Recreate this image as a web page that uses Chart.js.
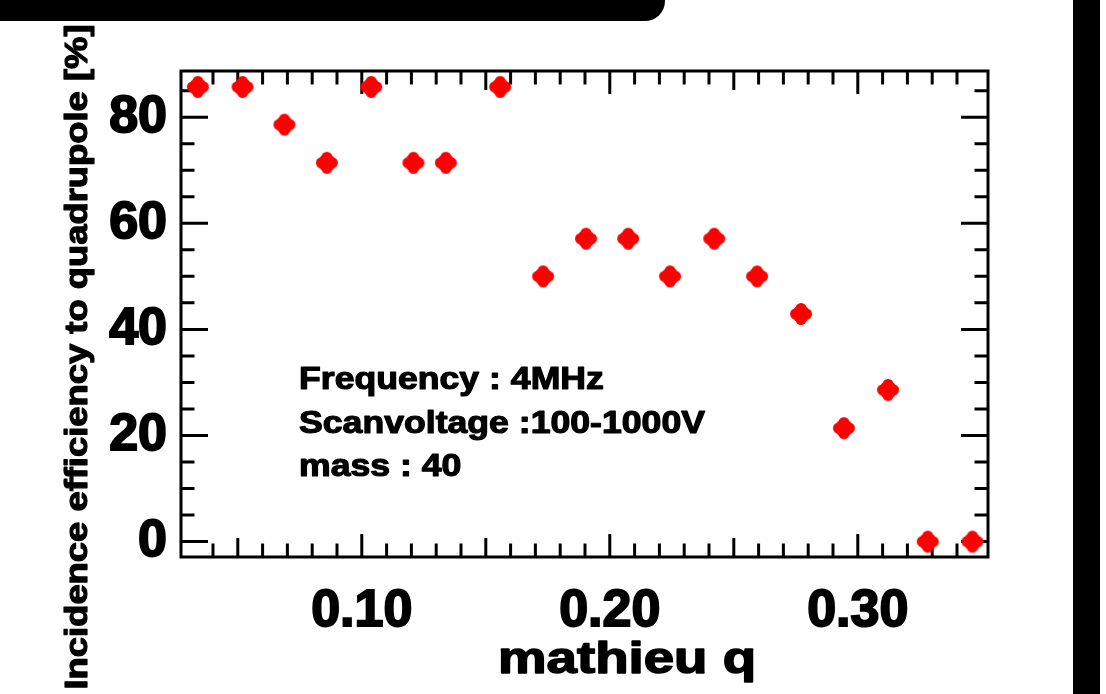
<!DOCTYPE html>
<html><head><meta charset="utf-8">
<script src="https://cdn.jsdelivr.net/npm/chart.js@4"></script>
<style>
html,body{margin:0;padding:0;background:#fff;}
#wrap{position:relative;width:1106px;height:694px;overflow:hidden;background:#fff;}
#c{position:absolute;left:0;top:0;}
.topbar{position:absolute;left:0;top:0;width:665px;height:21px;background:#000;border-bottom-right-radius:20px;z-index:2;}
.rightband{position:absolute;left:1073px;top:0;width:27px;height:694px;background:#000;z-index:2;}
</style></head>
<body><div id="wrap"><canvas id="c" width="1106" height="694"></canvas><div class="topbar"></div><div class="rightband"></div></div>
<script>
// ---- data ----
const qValues = [0.0339, 0.0519, 0.0688, 0.0859, 0.1038, 0.1208, 0.1339, 0.1558, 0.1731, 0.1904,
                 0.2074, 0.2243, 0.2421, 0.2594, 0.2771, 0.2944, 0.3122, 0.3282, 0.3462];
const efficiency = [85.7, 85.7, 78.6, 71.4, 85.7, 71.4, 71.4, 85.7, 50.0, 57.1,
                    57.1, 50.0, 57.1, 50.0, 42.9, 21.4, 28.6, 0, 0];
const xTickLabels = ['0.10', '0.20', '0.30'];
const yTickLabels = ['0', '20', '40', '60', '80'];
const annotationLines = ['Frequency : 4MHz', 'Scanvoltage :100-1000V', 'mass : 40'];
const xTitle = 'mathieu q';
const yTitle = 'Incidence efficiency to quadrupole [%]';
const xRange = [0.0271, 0.3525];
const yRange = [-2.9, 88.7];

const FONT = "'Liberation Sans', Arial, Helvetica, sans-serif";

function makeMarker() {
  const c = document.createElement('canvas'); c.width = 24; c.height = 24;
  const g = c.getContext('2d'); g.fillStyle = '#ff0000';
  g.beginPath(); g.roundRect(1, 6.5, 22, 11, 5.5); g.fill();
  g.beginPath(); g.roundRect(6.5, 1, 11, 22, 5.5); g.fill();
  g.beginPath(); g.arc(12, 12, 9, 0, Math.PI * 2); g.fill();
  return c;
}

function heavyText(ctx, text, x, y, sx, align, lw) {
  ctx.save();
  ctx.translate(x, y);
  ctx.scale(sx, 1);
  ctx.textAlign = align;
  ctx.lineJoin = 'round';
  ctx.lineWidth = lw;
  ctx.strokeStyle = '#000';
  ctx.fillText(text, 0, 0);
  ctx.strokeText(text, 0, 0);
  ctx.restore();
}

const framePlugin = {
  id: 'frame',
  beforeDatasetsDraw(chart) {
    const { ctx, chartArea: a, scales: { x, y } } = chart;
    ctx.save();
    ctx.strokeStyle = '#000'; ctx.lineWidth = 3; ctx.lineCap = 'butt';
    ctx.beginPath();
    x.ticks.forEach(t => {
      const k = t.value / 0.01, r = Math.round(k);
      if (Math.abs(k - r) > 1e-6) return;
      const len = r % 10 === 0 ? 23 : (r % 5 === 0 ? 19 : 13.5);
      const px = x.getPixelForValue(t.value);
      ctx.moveTo(px, a.bottom); ctx.lineTo(px, a.bottom - len);
      ctx.moveTo(px, a.top); ctx.lineTo(px, a.top + len);
    });
    y.ticks.forEach(t => {
      const k = t.value / 5, r = Math.round(k);
      if (Math.abs(k - r) > 1e-6) return;
      const len = r % 4 === 0 ? 27 : 13.5;
      const py = y.getPixelForValue(t.value);
      ctx.moveTo(a.left, py); ctx.lineTo(a.left + len, py);
      ctx.moveTo(a.right, py); ctx.lineTo(a.right - len, py);
    });
    ctx.stroke();
    ctx.strokeRect(a.left, a.top, a.right - a.left, a.bottom - a.top);
    ctx.restore();
  },
  afterDraw(chart) {
    const ctx = chart.ctx;
    ctx.save();
    ctx.fillStyle = '#000';
    ctx.textBaseline = 'alphabetic';
    // annotation
    ctx.font = 'bold 32px ' + FONT;
    const sx = 406 / ctx.measureText(annotationLines[1]).width;
    const baselines = [389, 433, 476];
    annotationLines.forEach((s, i) => heavyText(ctx, s, 299, baselines[i], sx, 'left', 1.2));
    // x title
    ctx.font = 'bold 44px ' + FONT;
    const sxx = 258 / ctx.measureText(xTitle).width;
    heavyText(ctx, xTitle, 627, 673, sxx, 'center', 1.5);
    // y title
    ctx.font = 'bold 32px ' + FONT;
    const sxy = 665 / ctx.measureText(yTitle).width;
    ctx.save();
    ctx.translate(87, 357);
    ctx.rotate(-Math.PI / 2);
    heavyText(ctx, yTitle, 0, 0, sxy, 'center', 1.2);
    ctx.restore();
    ctx.restore();
  }
};

const matchLabel = (list, v) => {
  const f = list.find(s => Math.abs(parseFloat(s) - v) < 1e-6);
  return f === undefined ? '' : f;
};

new Chart(document.getElementById('c'), {
  type: 'scatter',
  data: {
    datasets: [{
      data: qValues.map((q, i) => ({ x: q, y: efficiency[i] })),
      pointStyle: makeMarker(),
      pointRadius: 12,
      backgroundColor: '#ff0000',
      borderColor: '#ff0000',
      showLine: false
    }]
  },
  options: {
    responsive: false,
    animation: false,
    layout: { padding: { left: 0, top: 71, right: 118, bottom: 0 } },
    plugins: { legend: { display: false }, tooltip: { enabled: false } },
    scales: {
      x: {
        type: 'linear', min: xRange[0], max: xRange[1],
        grid: { display: false, drawTicks: false },
        border: { display: false },
        ticks: {
          stepSize: 0.01, autoSkip: false, maxRotation: 0, minRotation: 0, padding: 23,
          color: '#000', textStrokeColor: '#000', textStrokeWidth: 2,
          font: { family: FONT, size: 52, weight: 'bold' },
          callback: v => matchLabel(xTickLabels, v)
        },
        afterFit(s) { s.height = 137; }
      },
      y: {
        type: 'linear', min: yRange[0], max: yRange[1],
        grid: { display: false, drawTicks: false },
        border: { display: false },
        ticks: {
          stepSize: 5, autoSkip: false, padding: 14, includeBounds: false,
          color: '#000', textStrokeColor: '#000', textStrokeWidth: 2,
          font: { family: FONT, size: 52, weight: 'bold' },
          callback: v => matchLabel(yTickLabels, v)
        },
        afterFit(s) { s.width = 181; }
      }
    }
  },
  plugins: [framePlugin]
});
</script>
</body></html>
